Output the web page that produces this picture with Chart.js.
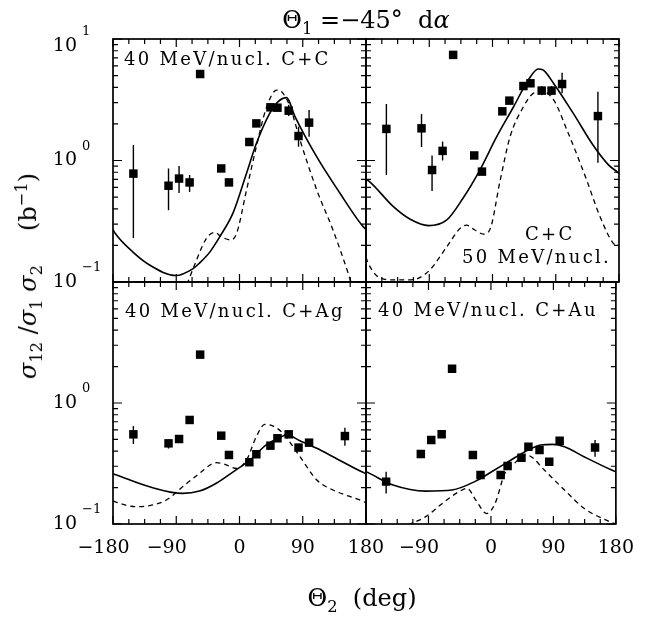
<!DOCTYPE html>
<html><head><meta charset="utf-8">
<script src="https://cdn.jsdelivr.net/npm/chart.js@4.4.0/dist/chart.umd.min.js"></script>
<style>
html,body{margin:0;padding:0;background:#fff;}
#wrap{position:relative;width:647px;height:624px;overflow:hidden;background:#fff;font-family:"DejaVu Serif",serif;color:#000;}
canvas{position:absolute;left:0;top:0;}
.t{position:absolute;white-space:nowrap;line-height:1;}
.lab{font-size:18px;letter-spacing:2.3px;}
.big{font-size:24px;}
sub,sup{font-size:68%;line-height:0;}
</style></head><body>
<div id="wrap">
<canvas id="cTL" width="647" height="624"></canvas>
<canvas id="cTR" width="647" height="624"></canvas>
<canvas id="cBL" width="647" height="624"></canvas>
<canvas id="cBR" width="647" height="624"></canvas>
<div class="t big" id="title" style="left:366px;top:20px;transform:translate(-50%,-50%)">&Theta;<sub>1</sub> =&minus;45&deg;&nbsp;&nbsp;d<i>&alpha;</i></div>
<div class="t big" id="ytitle" style="left:28px;top:276px;transform:translate(-50%,-50%) rotate(-90deg)"><i>&sigma;</i><sub>12</sub> /<i>&sigma;</i><sub>1</sub> <i>&sigma;</i><sub>2</sub><span style="margin-left:34px">(b<sup>&minus;1</sup>)</span></div>
<div class="t big" id="xtitle" style="left:362px;top:598px;transform:translate(-50%,-50%)">&Theta;<sub>2</sub>&nbsp;&nbsp;(deg)</div>
<div class="t lab" style="left:124px;top:50px">40 MeV/nucl. C+C</div>
<div class="t lab" style="left:525px;top:225px">C+C</div>
<div class="t lab" style="left:462px;top:248px">50 MeV/nucl.</div>
<div class="t lab" style="left:125px;top:302px">40 MeV/nucl. C+Ag</div>
<div class="t lab" style="left:378px;top:301px">40 MeV/nucl. C+Au</div>
</div>
<script>
// ---- data: detector angles (deg) ----
const thetaData = [-151, -101, -86, -71, -56, -26, -15, 14, 24, 44, 54, 70, 84, 99, 150];

// C+C 40 MeV/nucl.
const cc40Y  = [0.78, 0.62, 0.71, 0.66, 5.15, 0.86, 0.66, 1.42, 2.02, 2.74, 2.72, 2.57, 1.59, 2.05, null];
const cc40Lo = [0.23, 0.39, 0.54, 0.55, null, null, null, null, null, null, null, 2.32, 1.30, 1.57, null];
const cc40Hi = [1.34, 0.86, 0.90, 0.76, null, null, null, null, null, null, null, 2.87, 1.90, 2.61, null];
const cc40SolidX = [-180, -177, -152, -128, -91, -66, -57, -42, -28, -9, 10, 24, 43, 55, 67, 79, 110, 143, 174, 180];
const cc40SolidY = [0.27, 0.252, 0.177, 0.138, 0.113, 0.129, 0.143, 0.177, 0.236, 0.372, 0.785, 1.38, 2.44, 3.05, 3.29, 2.30, 1.07, 0.537, 0.294, 0.27];
const cc40DashX = [-85, -75, -66, -47, -35, -26, -12, -4, 10, 24, 38, 53, 60, 72, 86, 110, 133, 157, 170];
const cc40DashY = [0.07, 0.095, 0.129, 0.229, 0.256, 0.236, 0.222, 0.252, 0.571, 1.30, 2.69, 3.80, 3.68, 2.77, 1.48, 0.571, 0.268, 0.107, 0.06];

// C+C 50 MeV/nucl.
const cc50Y  = [1.82, 1.84, 0.835, 1.20, 7.4, 1.10, 0.81, 2.54, 3.11, 4.10, 4.32, 3.76, 3.76, 4.26, 2.32];
const cc50Lo = [0.76, 1.29, 0.56, 1.00, null, null, null, null, null, null, null, 3.45, 3.45, 3.57, 0.96];
const cc50Hi = [2.92, 2.41, 1.10, 1.43, null, null, null, null, null, null, null, 4.10, 4.10, 5.28, 3.68];
const cc50SolidX = [-180, -175, -141, -117, -91, -65, -42, -18, 6, 30, 51, 65, 72, 87, 115, 143, 165, 177, 180];
const cc50SolidY = [0.70, 0.67, 0.417, 0.328, 0.291, 0.324, 0.489, 0.835, 1.57, 2.77, 4.60, 5.66, 5.56, 4.31, 2.44, 1.34, 0.92, 0.81, 0.78];
const cc50DashX = [-180, -177, -160, -140, -120, -106, -89, -65, -46, -37, -25, -13, -4, 11, 25, 44, 58, 70, 87, 106, 134, 153, 172, 178];
const cc50DashY = [0.16, 0.143, 0.108, 0.104, 0.104, 0.107, 0.126, 0.195, 0.277, 0.294, 0.268, 0.248, 0.268, 0.69, 1.57, 2.77, 3.57, 3.70, 3.15, 1.78, 0.69, 0.345, 0.208, 0.20];

// C+Ag 40 MeV/nucl.
const cagY  = [0.551, 0.464, 0.504, 0.724, 2.51, 0.537, 0.372, 0.324, 0.377, 0.444, 0.511, 0.551, 0.428, 0.470, 0.533];
const cagLo = [0.458, 0.42, null, null, null, null, null, null, null, null, null, null, null, null, 0.444];
const cagHi = [0.645, 0.50, null, null, null, null, null, null, null, null, null, null, null, null, 0.625];
const cagSolidX = [-180, -175, -128, -81, -57, -33, -9, 15, 38, 60, 67, 86, 110, 133, 174, 180];
const cagSolidY = [0.26, 0.254, 0.203, 0.179, 0.187, 0.217, 0.27, 0.338, 0.45, 0.527, 0.545, 0.488, 0.422, 0.36, 0.27, 0.26];
const cagDashX = [-180, -175, -147, -128, -104, -81, -57, -33, -22, -4, 10, 24, 36, 48, 62, 86, 110, 133, 171, 180];
const cagDashY = [0.155, 0.151, 0.139, 0.142, 0.158, 0.203, 0.262, 0.321, 0.313, 0.288, 0.338, 0.527, 0.667, 0.645, 0.561, 0.36, 0.231, 0.191, 0.158, 0.15];

// C+Au 40 MeV/nucl.
const cauY  = [0.224, 0.379, 0.494, 0.551, 1.92, 0.372, 0.254, 0.254, 0.301, 0.353, 0.435, 0.409, 0.327, 0.488, 0.428];
const cauLo = [0.179, null, null, null, null, null, null, null, null, null, null, null, null, null, 0.36];
const cauHi = [0.270, null, null, null, null, null, null, null, null, null, null, null, null, null, 0.494];
const cauSolidX = [-180, -175, -141, -94, -56, -22, 1, 25, 49, 72, 89, 106, 134, 174, 180];
const cauSolidY = [0.27, 0.262, 0.21, 0.187, 0.191, 0.226, 0.27, 0.327, 0.396, 0.45, 0.455, 0.435, 0.36, 0.279, 0.27];
const cauDashX = [-180, -165, -150, -117, -94, -70, -46, -34, -22, -6, 6, 20, 34, 49, 58, 77, 106, 134, 172, 180];
const cauDashY = [0.098, 0.09, 0.085, 0.10, 0.115, 0.148, 0.185, 0.197, 0.158, 0.122, 0.148, 0.262, 0.318, 0.372, 0.36, 0.279, 0.191, 0.135, 0.104, 0.10];

// ---- ticks ----
const xTickValues = [-180, -157.5, -135, -112.5, -90, -67.5, -45, -22.5, 0, 22.5, 45, 67.5, 90, 112.5, 135, 157.5, 180];
const xLabelValues = [-180, -90, 0, 90, 180];
const xLabelsLeft  = ['\u2212180', '\u221290', '0', '90', '180'];
const xLabelsRight = ['', '\u221290', '0', '90', '180'];
const yTickValues = [0.1, 0.2, 0.3, 0.4, 0.5, 0.6, 0.7, 0.8, 0.9, 1, 2, 3, 4, 5, 6, 7, 8, 9, 10];
const yMajorValues = [0.1, 1, 10];
const yLabelValuesTop = [10, 1, 0.1];
const yLabelExpTop = ['1', '0', '\u22121'];
const yLabelValuesBottom = [1, 0.1];
const yLabelExpBottom = ['0', '\u22121'];

Chart.defaults.font.family = '"DejaVu Serif", serif';
Chart.defaults.color = '#000';

const X_AXIS_H = 40;

const panelFrame = {
  id: 'panelFrame',
  afterDatasetsDraw(chart, args, opts) {
    const ctx = chart.ctx, a = chart.chartArea, x = chart.scales.x, y = chart.scales.y;
    ctx.save();
    ctx.strokeStyle = '#000';
    ctx.lineWidth = 1.2;
    ctx.beginPath();
    xTickValues.forEach(v => {
      const px = x.getPixelForValue(v);
      const L = (v % 90 === 0) ? 8 : 5;
      ctx.moveTo(px, a.bottom); ctx.lineTo(px, a.bottom - L);
      ctx.moveTo(px, a.top); ctx.lineTo(px, a.top + L);
    });
    yTickValues.forEach(v => {
      const py = y.getPixelForValue(v);
      const L = yMajorValues.includes(v) ? 9 : 5;
      ctx.moveTo(a.left, py); ctx.lineTo(a.left + L, py);
      ctx.moveTo(a.right, py); ctx.lineTo(a.right - L, py);
    });
    ctx.stroke();
    ctx.lineWidth = 1.7;
    ctx.strokeRect(a.left, a.top, a.right - a.left, a.bottom - a.top);
    if (opts && opts.values) {
      ctx.fillStyle = '#000';
      ctx.textBaseline = 'middle';
      opts.values.forEach((v, i) => {
        let py = y.getPixelForValue(v);
        if (v === 10) py += 7;
        ctx.font = '19px "DejaVu Serif"';
        ctx.textAlign = 'right';
        ctx.fillText('10', a.left - 36, py);
        ctx.font = '13px "DejaVu Serif"';
        ctx.textAlign = 'left';
        ctx.fillText(opts.exps[i], a.left - 31, py - 14);
      });
    }
    ctx.restore();
  }
};

function pts(xs, ys) { return xs.map((x, i) => ({ x: x, y: ys[i] })); }

function buildDatasets(yVals, lo, hi, sx, sy, dx, dy) {
  const ds = [];
  ds.push({ data: pts(sx, sy), showLine: true, pointRadius: 0, borderColor: '#000', borderWidth: 1.6, cubicInterpolationMode: 'monotone', fill: false });
  ds.push({ data: pts(dx, dy), showLine: true, pointRadius: 0, borderColor: '#000', borderWidth: 1.3, borderDash: [5, 4], cubicInterpolationMode: 'monotone', fill: false });
  thetaData.forEach((x, i) => {
    if (lo[i] != null) ds.push({ data: [{ x: x, y: lo[i] }, { x: x, y: hi[i] }], showLine: true, pointRadius: 0, borderColor: '#000', borderWidth: 1.4, fill: false });
  });
  ds.push({ data: pts(thetaData, yVals).filter(p => p.y != null), showLine: false, pointStyle: 'rect', pointRadius: 6, pointBackgroundColor: '#000', pointBorderWidth: 0, borderColor: '#000', backgroundColor: '#000' });
  return ds;
}

function makePanel(id, box, datasets, xLabels, yLabels) {
  new Chart(document.getElementById(id), {
    type: 'line',
    data: { datasets: datasets },
    options: {
      responsive: false, animation: false, devicePixelRatio: 1, events: [],
      layout: { padding: { left: box.l, top: box.t, right: 647 - box.r, bottom: 624 - box.b - X_AXIS_H } },
      plugins: { legend: { display: false }, tooltip: { enabled: false }, panelFrame: yLabels || {} },
      scales: {
        x: {
          type: 'linear', min: -180, max: 180, position: 'bottom',
          afterFit: s => { s.height = X_AXIS_H; },
          grid: { display: false, drawTicks: false }, border: { display: false },
          ticks: {
            display: !!xLabels, stepSize: 90, autoSkip: false, maxRotation: 0, padding: 13,
            font: { size: 19 },
            callback: v => {
              if (!xLabels) return '';
              const k = xLabelValues.indexOf(v);
              if (k < 0) return '';
              const s = xLabels[k];
              return s.startsWith('\u2212') ? s + '\u2003' : s;
            }
          }
        },
        y: {
          type: 'logarithmic', min: 0.1, max: 10, position: 'left',
          afterFit: s => { s.width = 0; },
          grid: { display: false, drawTicks: false }, border: { display: false },
          ticks: { display: false }
        }
      }
    },
    plugins: [panelFrame]
  });
}

makePanel('cTL', { l: 113, t: 39, r: 366, b: 282 },
  buildDatasets(cc40Y, cc40Lo, cc40Hi, cc40SolidX, cc40SolidY, cc40DashX, cc40DashY),
  null, { values: yLabelValuesTop, exps: yLabelExpTop });
makePanel('cTR', { l: 366, t: 39, r: 619, b: 282 },
  buildDatasets(cc50Y, cc50Lo, cc50Hi, cc50SolidX, cc50SolidY, cc50DashX, cc50DashY),
  null, null);
makePanel('cBL', { l: 113, t: 282, r: 366, b: 524 },
  buildDatasets(cagY, cagLo, cagHi, cagSolidX, cagSolidY, cagDashX, cagDashY),
  xLabelsLeft, { values: yLabelValuesBottom, exps: yLabelExpBottom });
makePanel('cBR', { l: 366, t: 282, r: 619, b: 524 },
  buildDatasets(cauY, cauLo, cauHi, cauSolidX, cauSolidY, cauDashX, cauDashY),
  xLabelsRight, null);
</script>
</body></html>
